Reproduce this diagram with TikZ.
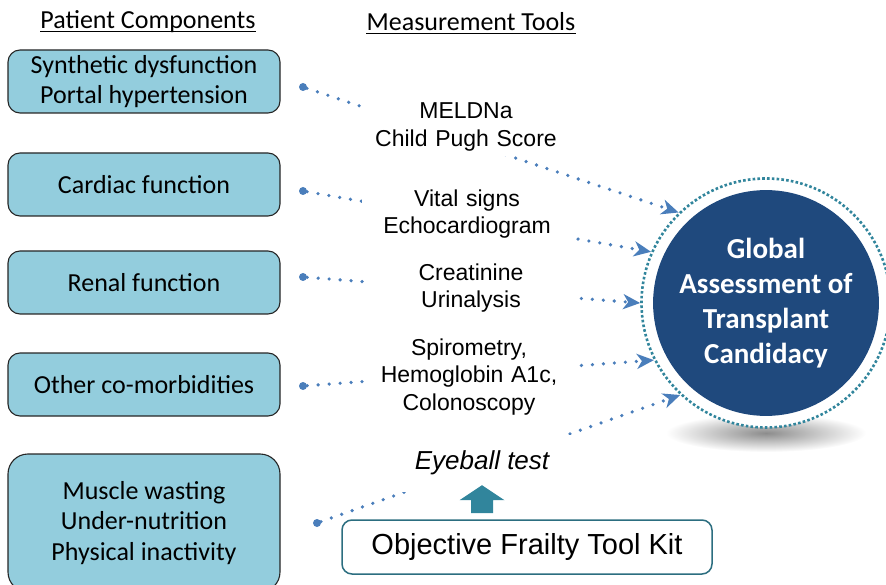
\documentclass[tikz,border=0pt]{standalone}
\usepackage{fontspec}
\setmainfont{Carlito}
\newfontfamily\arialfont{Liberation Sans}
\usepackage{xcolor}
\usetikzlibrary{positioning, arrows.meta, calc}

\definecolor{boxfill}{HTML}{93CDDD}
\definecolor{boxline}{HTML}{262626}
\definecolor{linkblue}{HTML}{4A7EBB}
\definecolor{navy}{HTML}{1F497D}
\definecolor{ringteal}{HTML}{31859C}
\definecolor{kitline}{HTML}{2C6E80}

\begin{document}
\begin{tikzpicture}[
    x=1pt, y=-1pt,
    comp/.style={rectangle, rounded corners=12pt, draw=boxline, line width=1.1pt, fill=boxfill,
        minimum width=272pt, minimum height=63pt, align=center,
        font=\fontsize{26}{29.5}\selectfont},
    tool/.style={fill=white, text width=200pt, inner xsep=5pt, inner ysep=5pt, align=center,
        font=\arialfont\fontsize{23}{27.5}\selectfont},
    hdr/.style={inner xsep=0pt, font=\fontsize{26}{30}\selectfont},
    pin/.style={circle, fill=linkblue, inner sep=0pt, minimum size=8pt},
    link/.style={draw=linkblue, line width=3.6pt, line cap=round, dash pattern=on 0pt off 11pt,
        -{Stealth[length=17pt, width=15pt, inset=5pt, fill=linkblue]}}
]
\useasboundingbox (0,0) rectangle (886,585);

% --- shadow under the goal ---
\shade[inner color=black!45, outer color=white] (766,433) ellipse [x radius=100pt, y radius=19pt];

% --- goal ---
\node[circle, fill=white, draw=ringteal, line width=2.6pt, dash pattern=on 2.6pt off 2.2pt,
    minimum size=249pt] (ring) at (766,303) {};
\node[circle, fill=navy, minimum size=225pt, text=white, align=center,
    font=\bfseries\fontsize{29}{35}\selectfont] (goal) at (766,303)
    {Global\\Assessment of\\Transplant\\Candidacy};

% --- headers ---
\node[hdr] (h1) at (148,22) {Patient Components};
\node[hdr] (h2) at (471,22) {Measurement Tools};
\draw[line width=1.1pt] ([yshift=-3pt]h1.base west) -- ([yshift=-3pt]h1.base east);
\draw[line width=1.1pt] ([yshift=-3pt]h2.base west) -- ([yshift=-3pt]h2.base east);

% --- patient components ---
\node[comp] (p1) at (144,81.5) {Synthetic dysfunction\\Portal hypertension};
\node[comp] (p2) at (144,184.5) {Cardiac function};
\node[comp] (p3) at (144,282.5) {Renal function};
\node[comp] (p4) at (144,384.5) {Other co-morbidities};
\node[comp, minimum height=138pt, rounded corners=20pt, font=\fontsize{26}{30.5}\selectfont] (p5) at (144,523)
    {Muscle wasting\\Under-nutrition\\Physical inactivity};

% --- pins ---
\node[pin] (d1) at (303,87) {};
\node[pin] (d2) at (303,191) {};
\node[pin] (d3) at (303,277) {};
\node[pin] (d4) at (303,386) {};
\node[pin] (d5) at (317,523) {};

% --- links to the goal ---
\draw[link] (d1) -- (ring.134);
\draw[link] (d2) -- (ring.156);
\draw[link] (d3) -- (ring.180);
\draw[link] (d4) -- (ring.207);
\draw[link] (d5) -- (ring.227);

% --- measurement tools (white boxes over the links) ---
\node[tool] (t1) at (466,127) {MELDNa\\Child Pugh Score};
\node[tool, text width=170pt, inner xsep=20pt] (t2) at (467,214) {Vital signs\\Echocardiogram};
\node[tool] (t3) at (471,288) {Creatinine\\Urinalysis};
\node[tool] (t4) at (469,377) {Spirometry,\\Hemoglobin A1c,\\Colonoscopy};
\node[fill=white, minimum width=190pt, minimum height=57pt,
    font=\arialfont\itshape\fontsize{26}{30}\selectfont] (eye) at (482,463) {Eyeball test};

% --- frailty kit ---
\node[draw=kitline, line width=1.5pt, rounded corners=10pt, fill=white,
    minimum width=370pt, minimum height=54pt,
    font=\arialfont\fontsize{29}{34}\selectfont] (kit) at (527,547) {Objective Frailty Tool Kit};
% block arrow from the kit up to the eyeball test
\fill[ringteal] ($(eye.south)+(-11,21.5)$) -- ++(22,0) -- ++(0,-13) -- ++(11.5,0)
    -- ($(eye.south)+(0,-6.5)$) -- ($(eye.south)+(-22.5,8.5)$) -- ++(11.5,0) -- cycle;

\end{tikzpicture}
\end{document}
